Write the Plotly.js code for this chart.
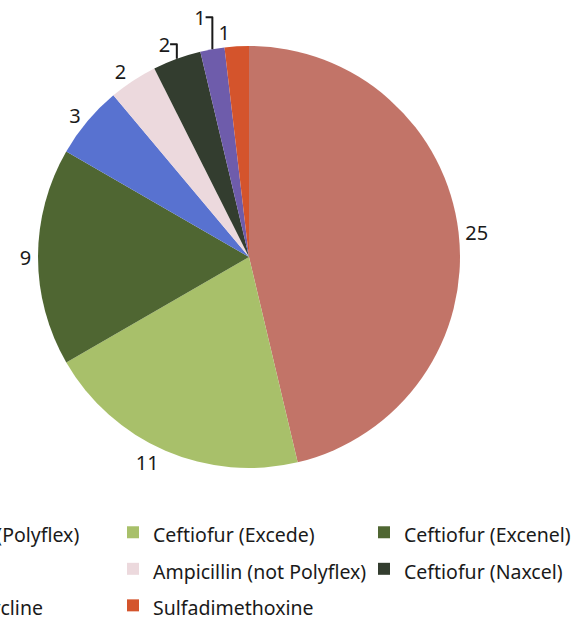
<!DOCTYPE html>
<html>
<head>
<meta charset="utf-8">
<script src="https://cdn.plot.ly/plotly-3.0.1.min.js"></script>
<style>
html, body { margin: 0; padding: 0; overflow: hidden; background: #fff; width: 575px; height: 633px; }
#wrap { position: absolute; left: -225px; top: 0; width: 900px; height: 633px; }
</style>
</head>
<body>
<div id="wrap"></div>
<script>
// Data
var drugs = [
  "Ampicillin (Polyflex)",
  "Ceftiofur (Excede)",
  "Ceftiofur (Excenel)",
  "Penicillin",
  "Ampicillin (not Polyflex)",
  "Ceftiofur (Naxcel)",
  "Oxytetracycline",
  "Sulfadimethoxine"
];
var counts = [25, 11, 9, 3, 2, 2, 1, 1];
var sliceColors = ["#c27468", "#a8c06a", "#4f6632", "#5872d0", "#ecd9dd", "#333d2f", "#6e5cab", "#d4542c"];

var W = 900, H = 633;
var cx = 474, cy = 257, R = 211;

var legendLabels = drugs.map(function (d) {
  return '<span style="font-size:19.5px">' + d + '</span>';
});
var last = counts.length - 1;
var domain = {
  x: [(cx - R) / W, (cx + R) / W],
  y: [(H - cy - R) / H, (H - cy + R) / H]
};
var textFont = { family: '"Noto Sans", "Open Sans", sans-serif', size: 20, color: '#1a1a1a' };

// main pie: all slices, value labels except the last one
var mainPie = {
  type: 'pie',
  labels: legendLabels,
  values: counts,
  sort: false,
  direction: 'clockwise',
  rotation: 0,
  marker: { colors: sliceColors, line: { width: 0 } },
  textinfo: 'value',
  textposition: counts.map(function (v, i) { return i === last ? 'none' : 'outside'; }),
  textfont: textFont,
  hoverinfo: 'label+value',
  domain: domain
};

// same pie, transparent, carrying only the last slice's label (so it is not stacked upward)
var labelPie = {
  type: 'pie',
  labels: legendLabels,
  values: counts,
  sort: false,
  direction: 'clockwise',
  rotation: 0,
  marker: { colors: counts.map(function () { return 'rgba(0,0,0,0)'; }), line: { width: 0 } },
  textinfo: 'value',
  textposition: counts.map(function (v, i) { return i === last ? 'outside' : 'none'; }),
  textfont: textFont,
  showlegend: false,
  hoverinfo: 'skip',
  domain: domain
};

var layout = {
  width: W,
  height: H,
  margin: { l: 0, r: 0, t: 0, b: 0 },
  paper_bgcolor: '#fff',
  showlegend: true,
  legend: {
    orientation: 'h',
    x: 87 / W,
    xanchor: 'left',
    y: 1 - 509 / H,
    yanchor: 'top',
    entrywidth: 206,
    entrywidthmode: 'pixels',
    font: { family: '"Noto Sans", "Open Sans", sans-serif', size: 25.8, color: '#1a1a1a' },
    traceorder: 'normal',
    bgcolor: 'rgba(0,0,0,0)'
  }
};

Plotly.newPlot('wrap', [mainPie, labelPie], layout, { displayModeBar: false, staticPlot: true });
</script>
</body>
</html>
